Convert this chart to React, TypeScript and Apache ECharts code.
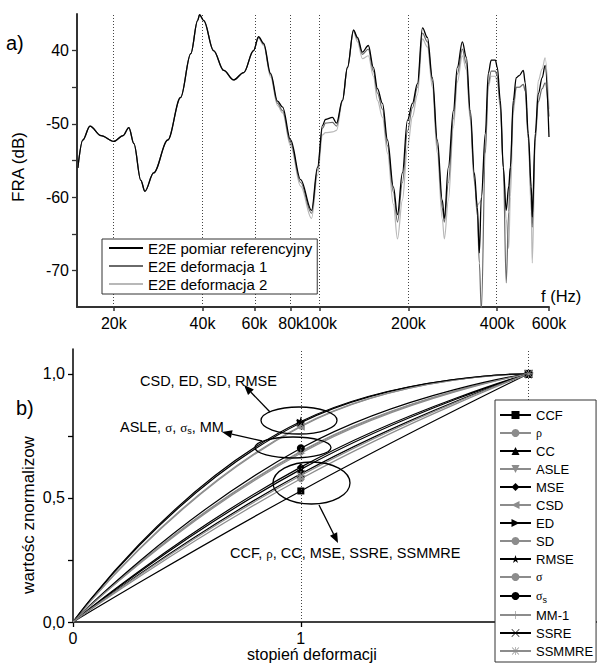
import React, { useEffect, useRef } from 'react';
import * as echarts from 'echarts';

// ---------- Panel a) FRA curves ----------
const freqKHz = [
  15.1, 15.7, 16.6, 18.1, 20.0, 21.5, 22.5, 23.4, 24.7, 25.5,
  27.3, 30.5, 33.7, 36.5, 38.5, 39.1, 40.4, 43.6, 47.2, 51.0,
  55.2, 59.6, 62.0, 64.5, 68.1, 71.9, 74.8, 79.6, 86.1, 93.8,
  98.3, 102.2, 104.6, 110.5, 114.0, 119.4, 124.2, 130.2, 134.3, 139.6,
  146.2, 152.1, 157.0, 163.3, 169.8, 177.8, 183.6, 190.8, 198.5, 206.4,
  214.6, 223.2, 232.0, 241.2, 250.6, 260.6, 264.8, 273.3, 284.2, 293.1,
  304.8, 314.5, 324.3, 334.7, 342.8, 348.1, 353.6, 364.8, 373.3, 382.0,
  394.5, 400.6, 410.2, 419.8, 429.5, 438.0, 443.6, 453.9, 464.5, 475.3,
  490.9, 498.4, 510.3, 522.4, 526.4, 538.9, 551.7, 568.9, 582.1, 600.0,
];
const refDb = [
  -56.0, -52.2, -50.3, -51.6, -52.4, -51.6, -50.5, -52.7, -57.7, -59.2,
  -56.7, -52.2, -46.4, -40.4, -35.9, -35.1, -35.9, -40.0, -42.7, -44.0,
  -43.0, -40.0, -38.1, -39.0, -43.1, -46.9, -47.7, -52.2, -57.6, -61.8,
  -55.9, -50.2, -49.4, -49.1, -49.9, -46.8, -42.3, -37.2, -38.2, -40.2,
  -39.3, -42.3, -45.2, -47.2, -52.2, -58.6, -62.4, -56.7, -49.5, -47.2,
  -44.5, -36.9, -38.2, -43.7, -52.2, -60.4, -62.9, -55.9, -48.2, -42.3,
  -38.8, -40.9, -48.2, -56.7, -61.4, -67.6, -60.0, -51.3, -43.1, -41.3,
  -41.3, -42.3, -46.8, -55.9, -61.8, -58.5, -55.9, -46.8, -43.7, -43.4,
  -42.7, -44.4, -51.3, -58.6, -62.7, -51.3, -45.9, -43.7, -42.0, -51.8,
];
const def1Db = [
  -56.0, -52.2, -50.3, -51.6, -52.4, -51.6, -50.5, -52.7, -57.7, -59.2,
  -56.7, -52.2, -46.4, -40.4, -35.9, -35.1, -35.9, -40.0, -42.7, -44.0,
  -43.0, -40.0, -38.2, -39.1, -43.3, -47.2, -48.2, -52.6, -58.0, -62.2,
  -56.3, -50.6, -49.9, -49.8, -50.3, -46.8, -42.3, -37.2, -38.4, -40.5,
  -39.8, -42.8, -45.8, -48.0, -53.0, -59.3, -63.4, -58.0, -51.0, -47.8,
  -45.0, -37.6, -38.8, -44.2, -53.0, -61.5, -63.4, -58.0, -49.3, -43.2,
  -39.8, -41.8, -49.0, -57.5, -62.5, -69.0, -75.5, -54.0, -44.5, -42.8,
  -42.8, -43.5, -47.5, -56.0, -71.7, -62.0, -56.0, -47.5, -45.0, -45.0,
  -44.6, -45.5, -52.0, -60.0, -64.1, -52.0, -47.0, -45.2, -44.4, -49.0,
];
const def2Db = [
  -56.0, -52.2, -50.3, -51.6, -52.4, -51.6, -50.5, -52.7, -57.7, -59.2,
  -56.7, -52.2, -46.4, -40.4, -35.9, -35.1, -35.9, -40.0, -42.7, -44.0,
  -43.0, -40.0, -38.3, -39.3, -43.6, -47.5, -48.5, -53.0, -58.5, -62.9,
  -57.0, -51.5, -51.2, -51.1, -50.9, -47.0, -42.4, -37.4, -38.8, -41.1,
  -40.7, -43.5, -46.8, -49.1, -54.0, -61.0, -65.7, -60.4, -53.2, -49.0,
  -46.0, -38.4, -39.5, -45.0, -54.0, -63.0, -65.7, -60.4, -50.5, -44.3,
  -40.7, -42.6, -49.5, -58.0, -61.1, -60.8, -60.4, -53.0, -45.0, -43.5,
  -43.5, -44.2, -48.0, -56.0, -63.0, -67.0, -60.0, -48.5, -45.0, -45.0,
  -44.6, -45.5, -52.0, -62.0, -69.0, -52.5, -44.1, -42.5, -41.0, -48.0,
];
const fraSeriesNames = ['E2E pomiar referencyjny', 'E2E deformacja 1', 'E2E deformacja 2'];
const freqTickKHz = [20, 40, 60, 80, 100, 200, 400, 600];
const freqTickLabels = ['20k', '40k', '60k', '80k', '100k', '200k', '400k', '600k'];
const freqGridKHz = [20, 40, 60, 80, 100, 200, 400];
const dbLabelTicks = [-70, -60, -50, -40];
const dbLabelTexts = ['-70', '-60', '-50', '40'];
const dbMinorTicks = [-70, -65, -60, -55, -50, -45, -40];

// ---------- Panel b) normalised metrics ----------
const degreeLevels = [0, 1, 2];
const degreeTickLabels = ['0', '1', '2'];
const metricNames = ['CCF', 'ρ', 'CC', 'ASLE', 'MSE', 'CSD', 'ED', 'SD', 'RMSE', 'σ', 'σs', 'MM-1', 'SSRE', 'SSMMRE'];
const metricAtDeg0 = [0, 0, 0, 0, 0, 0, 0, 0, 0, 0, 0, 0, 0, 0];
const metricAtDeg1 = [0.528, 0.577, 0.615, 0.688, 0.624, 0.787, 0.803, 0.79, 0.808, 0.685, 0.7, 0.68, 0.597, 0.59];
const metricAtDeg2 = [1, 1, 1, 1, 1, 1, 1, 1, 1, 1, 1, 1, 1, 1];
const normTicks = [0, 0.5, 1];
const normTickTexts = ['0,0', '0,5', '1,0'];
const normMinorTicks = [0, 0.25, 0.5, 0.75, 1];

const STAR = 'path://M50,0L61.2,34.5L97.6,34.5L68.2,55.9L79.4,90.5L50,69.1L20.6,90.5L31.8,55.9L2.4,34.5L38.8,34.5Z';
const PLUS = 'path://M46,0H54V46H100V54H54V100H46V54H0V46H46Z';
const CROSS = 'path://M6,0L50,44L94,0L100,6L56,50L100,94L94,100L50,56L6,100L0,94L44,50L0,6Z';
const ASTER = 'path://M46,0H54V46H100V54H54V100H46V54H0V46H46Z M10,4L50,44L90,4L96,10L56,50L96,90L90,96L50,56L10,96L4,90L44,50L4,10Z';

const BLACK = '#000000';
const GRAY = '#8c8c8c';
const metricColors = [BLACK, GRAY, BLACK, GRAY, BLACK, GRAY, BLACK, GRAY, BLACK, GRAY, BLACK, GRAY, BLACK, GRAY];
const metricSymbols = ['rect', 'circle', 'triangle', 'triangle', 'diamond', 'triangle', 'triangle', 'circle', STAR, 'circle', 'circle', PLUS, CROSS, ASTER];
const metricRotate = [0, 0, 0, 180, 0, 90, -90, 0, 0, 0, 0, 0, 0, 0];
const metricSizes = [7, 7, 8, 8, 8, 8, 8, 7, 10, 7, 8, 9, 8, 9];

const FONT = 'Liberation Sans';
const SERIF = 'Liberation Serif';

export default function App() {
  const ref = useRef<HTMLDivElement>(null);

  useEffect(() => {
    if (!ref.current) return;
    const chart = echarts.init(ref.current, null, { renderer: 'svg' });

    const lg = (v: number) => Math.log10(v * 1000);
    const freqTickVals = freqTickKHz.map(lg);
    const fraColors = ['#000000', '#6a6a6a', '#b8b8b8'];
    const fraWidths = [1.3, 1.2, 1.2];
    const fraData = [refDb, def1Db, def2Db];

    const fraSeries: any[] = [2, 1, 0].map((k) => ({
      type: 'line',
      name: fraSeriesNames[k],
      xAxisIndex: 0,
      yAxisIndex: 0,
      symbol: 'none',
      smooth: 0.35,
      smoothMonotone: 'x',
      lineStyle: { color: fraColors[k], width: fraWidths[k] },
      itemStyle: { color: fraColors[k] },
      data: freqKHz.map((f, i) => [lg(f), fraData[k][i]]),
      z: 3 + (2 - k),
    }));
    fraSeries[0].markLine = {
      silent: true,
      symbol: 'none',
      label: { show: false },
      lineStyle: { color: '#444', width: 1, type: [1, 2] },
      data: freqGridKHz.map((f) => ({ xAxis: lg(f) })),
    };

    const metricSeries: any[] = metricNames.map((name, i) => ({
      type: 'line',
      name,
      xAxisIndex: 1,
      yAxisIndex: 1,
      smooth: 0.5,
      symbol: metricSymbols[i],
      symbolSize: metricSizes[i],
      symbolRotate: metricRotate[i],
      showAllSymbol: true,
      lineStyle: { color: metricColors[i], width: 1.2 },
      itemStyle: { color: metricColors[i] },
      z: 3,
      data: [
        { value: [degreeLevels[0], metricAtDeg0[i]], symbol: 'none' },
        [degreeLevels[1], metricAtDeg1[i]],
        [degreeLevels[2], metricAtDeg2[i]],
      ],
    }));
    metricSeries[0].markLine = {
      silent: true,
      symbol: 'none',
      label: { show: false },
      lineStyle: { color: '#444', width: 1, type: [1, 2] },
      data: [{ xAxis: degreeLevels[1] }, { xAxis: degreeLevels[2] }],
    };

    const arrow = (x1: number, y1: number, tx: number, ty: number) => {
      const dx = tx - x1;
      const dy = ty - y1;
      const len = Math.sqrt(dx * dx + dy * dy);
      const ux = dx / len;
      const uy = dy / len;
      const bx = tx - 10 * ux;
      const by = ty - 10 * uy;
      const nx = -uy;
      const ny = ux;
      return [
        { type: 'line', z: 100, shape: { x1, y1, x2: bx, y2: by }, style: { stroke: '#000', lineWidth: 1.3 } },
        {
          type: 'polygon',
          z: 100,
          shape: { points: [[tx, ty], [bx + 4 * nx, by + 4 * ny], [bx - 4 * nx, by - 4 * ny]] },
          style: { fill: '#000' },
        },
      ];
    };

    const txt = (text: string, x: number, y: number, size: number, extra: any = {}) => ({
      type: 'text',
      x,
      y,
      z: 100,
      ...extra,
      style: {
        text,
        fontSize: size,
        fontFamily: FONT,
        fill: '#000',
        align: 'left',
        verticalAlign: 'middle',
        ...(extra.style || {}),
      },
    });

    const richAnn = {
      n: { fontSize: 14.5, fontFamily: FONT, fill: '#000' },
      g: { fontSize: 13, fontFamily: SERIF, fill: '#000' },
      s: { fontSize: 9, fontFamily: FONT, fill: '#000', padding: [7, 0, 0, 0] },
    };

    const option: any = {
      animation: false,
      backgroundColor: '#fff',
      textStyle: { fontFamily: FONT },
      grid: [
        { left: 77, top: 14, width: 472, height: 293 },
        { left: 73, top: 349, width: 524, height: 273 },
      ],
      xAxis: [
        {
          gridIndex: 0,
          type: 'value',
          min: lg(15.0),
          max: lg(600),
          axisLine: { show: true, lineStyle: { color: '#333', width: 2 } },
          axisTick: { show: true, customValues: freqTickVals, length: 4, lineStyle: { color: '#333', width: 1.5 } },
          axisLabel: {
            customValues: freqTickVals,
            color: '#000',
            fontSize: 16,
            margin: 8,
            formatter: (v: number) => {
              const i = freqTickVals.findIndex((t) => Math.abs(t - v) < 1e-6);
              return i >= 0 ? freqTickLabels[i] : '';
            },
          },
          splitLine: { show: false },
        },
        {
          gridIndex: 1,
          type: 'value',
          min: 0,
          max: 2.3,
          axisLine: { show: true, lineStyle: { color: '#000', width: 1.5 } },
          axisTick: { show: true, customValues: degreeLevels, length: 5, lineStyle: { color: '#000', width: 1.3 } },
          axisLabel: {
            customValues: degreeLevels,
            color: '#000',
            fontSize: 16,
            margin: 8,
            formatter: (v: number) => {
              const i = degreeLevels.findIndex((t) => Math.abs(t - v) < 1e-6);
              return i >= 0 ? degreeTickLabels[i] : '';
            },
          },
          splitLine: { show: false },
        },
      ],
      yAxis: [
        {
          gridIndex: 0,
          type: 'value',
          min: -75,
          max: -35,
          axisLine: { show: true, lineStyle: { color: '#333', width: 2 } },
          axisTick: { show: true, customValues: dbMinorTicks, length: 5, lineStyle: { color: '#333', width: 1.3 } },
          axisLabel: {
            customValues: dbLabelTicks,
            color: '#000',
            fontSize: 16,
            margin: 8,
            formatter: (v: number) => {
              const i = dbLabelTicks.findIndex((t) => Math.abs(t - v) < 1e-6);
              return i >= 0 ? dbLabelTexts[i] : '';
            },
          },
          splitLine: { show: false },
        },
        {
          gridIndex: 1,
          type: 'value',
          min: 0,
          max: 1.1,
          axisLine: { show: true, lineStyle: { color: '#000', width: 1.5 } },
          axisTick: { show: true, customValues: normMinorTicks, length: 5, lineStyle: { color: '#000', width: 1.3 } },
          axisLabel: {
            customValues: normTicks,
            color: '#000',
            fontSize: 16,
            margin: 8,
            formatter: (v: number) => {
              const i = normTicks.findIndex((t) => Math.abs(t - v) < 1e-6);
              return i >= 0 ? normTickTexts[i] : '';
            },
          },
          splitLine: { show: false },
        },
      ],
      legend: [
        {
          data: fraSeriesNames,
          orient: 'vertical',
          left: 102,
          top: 239,
          padding: [1, 5, 2, 6],
          itemGap: 2,
          itemWidth: 34,
          itemHeight: 2,
          itemStyle: { opacity: 0 },
          textStyle: { fontSize: 15, fontFamily: FONT, color: '#000', lineHeight: 16 },
          itemTextGap: 5,
          borderColor: '#333',
          borderWidth: 1,
          backgroundColor: '#fff',
          borderRadius: 0,
          z: 10,
        },
        {
          data: metricNames,
          orient: 'vertical',
          left: 495,
          top: 400,
          padding: [8, 3, 4, 4],
          itemGap: 4,
          itemWidth: 31,
          itemHeight: 10,
          itemTextGap: 6,
          textStyle: {
            fontSize: 13,
            fontFamily: FONT,
            color: '#000',
            lineHeight: 14,
            rich: {
              g: { fontSize: 12, fontFamily: SERIF, color: '#000', lineHeight: 14 },
              s: { fontSize: 9, fontFamily: FONT, color: '#000', lineHeight: 14, padding: [7, 0, 0, 0] },
            },
          },
          formatter: (name: string) => {
            if (name === 'ρ') return '{g|ρ}';
            if (name === 'σ') return '{g|σ}';
            if (name === 'σs') return '{g|σ}{s|s}';
            return name;
          },
          borderColor: '#333',
          borderWidth: 1,
          backgroundColor: '#fff',
          z: 10,
        },
      ],
      graphic: [
        txt('a)', 6, 43, 20),
        txt('FRA (dB)', 18, 167, 17, { rotation: Math.PI / 2, style: { align: 'center' } }),
        txt('f (Hz)', 541, 296, 16.5),
        txt('b)', 16, 408, 20),
        txt('wartośc znormalizow', 28, 515, 17, { rotation: Math.PI / 2, style: { align: 'center' } }),
        txt('stopień deformacji', 312, 654, 16, { style: { align: 'center' } }),
        txt('CSD, ED, SD, RMSE', 140, 381, 14.5),
        {
          type: 'text',
          x: 120,
          y: 427,
          z: 100,
          style: {
            text: '{n|ASLE, }{g|σ}{n|, }{g|σ}{s|s}{n|, MM}',
            rich: richAnn,
            align: 'left',
            verticalAlign: 'middle',
          },
        },
        {
          type: 'text',
          x: 230,
          y: 553,
          z: 100,
          style: {
            text: '{n|CCF, }{g|ρ}{n|, CC, MSE, SSRE, SSMMRE}',
            rich: richAnn,
            align: 'left',
            verticalAlign: 'middle',
          },
        },
        { type: 'ellipse', z: 100, shape: { cx: 299, cy: 420.5, rx: 38, ry: 13.5 }, style: { fill: 'none', stroke: '#000', lineWidth: 1.3 } },
        { type: 'ellipse', z: 100, shape: { cx: 293, cy: 447.5, rx: 38, ry: 10.5 }, style: { fill: 'none', stroke: '#000', lineWidth: 1.3 } },
        { type: 'ellipse', z: 100, shape: { cx: 311.5, cy: 483, rx: 38.5, ry: 21 }, style: { fill: 'none', stroke: '#000', lineWidth: 1.3 } },
        ...arrow(270, 412, 244, 385),
        ...arrow(262, 441, 222, 432),
        ...arrow(319, 505, 338, 543),
      ],
      series: [...fraSeries, ...metricSeries],
    };

    chart.setOption(option);
    return () => chart.dispose();
  }, []);

  return (
    <div
      ref={ref}
      style={{ position: 'fixed', left: 0, top: 0, width: 597, height: 663, background: '#fff' }}
    />
  );
}
